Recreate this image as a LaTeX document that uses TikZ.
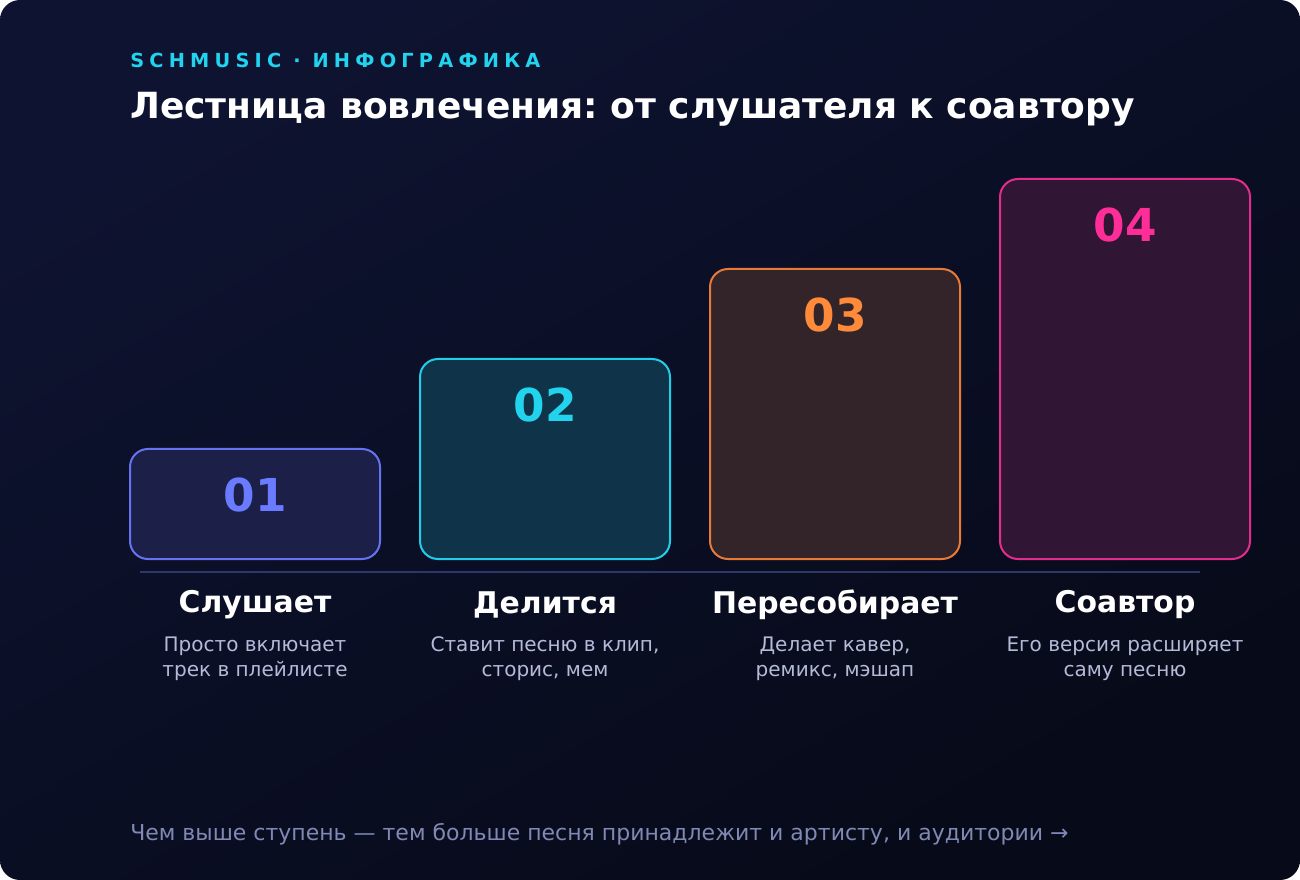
\documentclass[tikz,border=0pt]{standalone}
\usepackage{fontspec}
\setmainfont{DejaVu Sans}
\usetikzlibrary{positioning}
\frenchspacing

\definecolor{bgtop}{HTML}{0E1331}
\definecolor{bgbot}{HTML}{070A18}
\definecolor{kicker}{HTML}{22D3EE}
\definecolor{descc}{HTML}{B4BAD8}
\definecolor{footc}{HTML}{8088B4}
\definecolor{basec}{HTML}{2E3868}
\definecolor{oneline}{HTML}{6673F0}
\definecolor{onefill}{HTML}{1C2049}
\definecolor{onetext}{HTML}{6B7BFF}
\definecolor{twoline}{HTML}{22CDE8}
\definecolor{twofill}{HTML}{0F3349}
\definecolor{threeline}{HTML}{E87A38}
\definecolor{threefill}{HTML}{33242A}
\definecolor{threetext}{HTML}{FF8A3A}
\definecolor{fourline}{HTML}{E22D8C}
\definecolor{fourfill}{HTML}{311535}
\definecolor{fourtext}{HTML}{FF2D98}

\tikzset{
  stepbox/.style={draw, line width=1.5pt, rounded corners=13.5pt, inner sep=0pt,
    minimum width=187.5pt, anchor=south},
  numtext/.style={font=\fontsize{34}{40}\selectfont\bfseries, inner sep=0pt},
  headtext/.style={font=\fontsize{22.4}{27}\selectfont\bfseries, text=white, inner sep=0pt},
  desctext/.style={font=\fontsize{15}{18.75}\selectfont, text=descc, align=center, inner sep=0pt},
}

\begin{document}
\begin{tikzpicture}[x=0.75pt, y=-0.75pt]
  \fill[white] (0,0) rectangle (1300,880);
  \shade[rounded corners=15pt, top color=bgtop, bottom color=bgbot, shading angle=30]
    (0,0) rectangle (1300,880);
  \useasboundingbox (0,0) rectangle (1300,880);

  \node[anchor=west, inner sep=0pt, text=kicker,
    font=\fontsize{14.5}{17}\selectfont\bfseries\addfontfeatures{LetterSpace=27}]
    (kick) at (130,60) {SCHMUSIC · ИНФОГРАФИКА};
  \node[anchor=west, inner sep=0pt, text=white, font=\fontsize{27}{32}\selectfont\bfseries]
    (title) at (130,109) {Лестница вовлечения: от слушателя к соавтору};

  % steps
  \node[stepbox, draw=oneline, fill=onefill, minimum height=82.5pt] (s1) at (255,560) {};
  \node[stepbox, draw=twoline, fill=twofill, minimum height=150pt] (s2) at (545,560) {};
  \node[stepbox, draw=threeline, fill=threefill, minimum height=217.5pt] (s3) at (835,560) {};
  \node[stepbox, draw=fourline, fill=fourfill, minimum height=285pt] (s4) at (1125,560) {};

  \node[numtext, text=onetext] (n1) at ([yshift=-35.25pt]s1.north) {01};
  \node[numtext, text=kicker] (n2) at ([yshift=-35.25pt]s2.north) {02};
  \node[numtext, text=threetext] (n3) at ([yshift=-35.25pt]s3.north) {03};
  \node[numtext, text=fourtext] (n4) at ([yshift=-35.25pt]s4.north) {04};

  \coordinate (b0) at (140,572);
  \coordinate (b1) at (1200,572);
  \draw[basec, line width=1pt] (b0) -- (b1);

  \node[headtext] (h1) at (255,605) {Слушает};
  \node[headtext] (h2) at (545,605) {Делится};
  \node[headtext] (h3) at (835,605) {Пересобирает};
  \node[headtext] (h4) at (1125,605) {Соавтор};

  \node[desctext] (d1) at (255,659) {Просто включает\\трек в плейлисте};
  \node[desctext] (d2) at (545,659) {Ставит песню в клип,\\сторис, мем};
  \node[desctext] (d3) at (835,659) {Делает кавер,\\ремикс, мэшап};
  \node[desctext] (d4) at (1125,659) {Его версия расширяет\\саму песню};

  \node[anchor=west, inner sep=0pt, text=footc, font=\fontsize{16.5}{20}\selectfont]
    (foot) at (130,834) {Чем выше ступень — тем больше песня принадлежит и артисту, и аудитории →};
\end{tikzpicture}
\end{document}
